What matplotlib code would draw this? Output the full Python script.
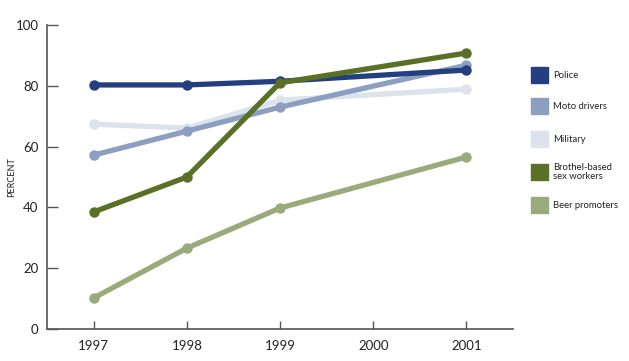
import matplotlib.pyplot as plt
from matplotlib.patches import Rectangle

# data (no 2000 survey)
years = [1997, 1998, 1999, 2001]
police = [80.3, 80.3, 81.5, 85.2]
moto_drivers = [57.2, 65.1, 73.0, 86.8]
military = [67.4, 66.1, 75.3, 78.9]
brothel_workers = [38.5, 50.0, 81.0, 90.8]
beer_promoters = [10.2, 26.6, 39.8, 56.6]

xticks = [1997, 1998, 1999, 2000, 2001]
yticks = [0, 20, 40, 60, 80, 100]

series = [
    ("Military", military, "#dce3ec"),
    ("Moto drivers", moto_drivers, "#8d9fc1"),
    ("Police", police, "#233f80"),
    ("Beer promoters", beer_promoters, "#9baa7a"),
    ("Brothel-based\nsex workers", brothel_workers, "#5a7027"),
]
legend_order = ["Police", "Moto drivers", "Military", "Brothel-based\nsex workers", "Beer promoters"]

plt.rcParams['font.family'] = ['Lato', 'DejaVu Sans']

fig = plt.figure(figsize=(6.29, 3.61), dpi=100)
ax = fig.add_axes([0.0747, 0.0886, 0.741, 0.842])

colors = {}
for name, vals, col in series:
    ax.plot(years, vals, color=col, lw=3.8, marker='o', ms=6.5,
            solid_capstyle='round', solid_joinstyle='round', zorder=3)
    colors[name] = col

ax.set_xlim(1996.5, 2001.5)
ax.set_ylim(0, 100)
ax.set_xticks(xticks)
ax.set_yticks(yticks)
ax.tick_params(axis='y', direction='in', length=8, width=1, color='#555555',
               labelsize=9.5, pad=6, labelcolor='#222222')
ax.tick_params(axis='x', direction='in', length=6, width=1, color='#555555',
               labelsize=9.5, pad=8, labelcolor='#222222')
for s in ['top', 'right']:
    ax.spines[s].set_visible(False)
for s in ['left', 'bottom']:
    ax.spines[s].set_color('#555555')
    ax.spines[s].set_linewidth(1.2)

# y label placed by hand so it is not clipped
fig.text(12 / 629, 1 - 177 / 361, 'PERCENT', rotation=90, fontsize=6.5,
         ha='center', va='center', color='#222222')

# legend drawn by hand to match the layout
ys = [75, 106, 139, 172, 205]
for name, y in zip(legend_order, ys):
    fig.patches.append(Rectangle((531 / 629, 1 - (y + 8) / 361), 17 / 629, 16 / 361,
                                 transform=fig.transFigure, color=colors[name]))
    fig.text(553 / 629, 1 - y / 361, name, fontsize=6.8, va='center', ha='left',
             color='#222222', linespacing=1.1)

fig.savefig('out.png', dpi=100)
